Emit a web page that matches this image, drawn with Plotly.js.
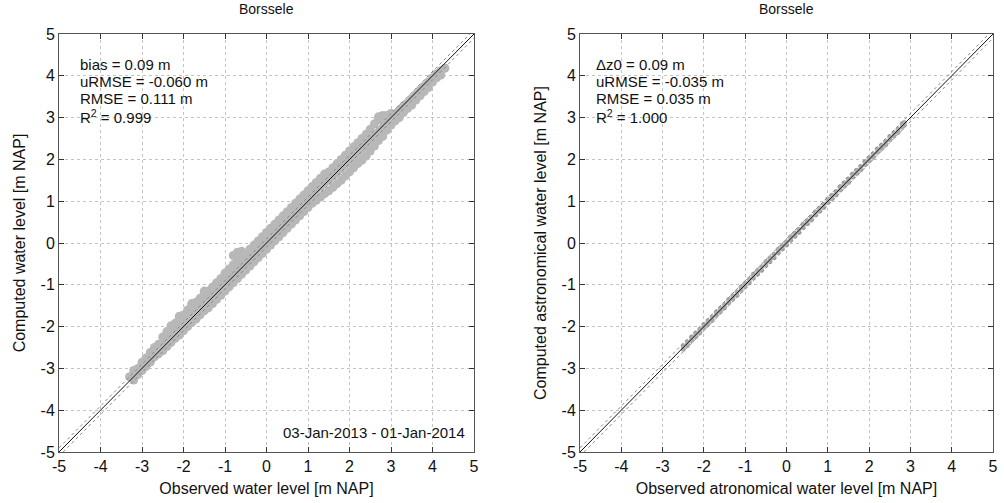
<!DOCTYPE html>
<html>
<head>
<meta charset="utf-8">
<script src="https://cdn.plot.ly/plotly-3.0.1.min.js"></script>
<style>html,body{margin:0;padding:0;background:#fff;}#chart{width:1004px;height:503px;}</style>
</head>
<body>
<div id="chart"></div>
<script>
// ---------- data ----------
const stationName = "Borssele";
const periodLabel = "03-Jan-2013 - 01-Jan-2014";
const tickValues = [-5, -4, -3, -2, -1, 0, 1, 2, 3, 4, 5];
const tickLabels = ["-5", "-4", "-3", "-2", "-1", "0", "1", "2", "3", "4", "5"];
const refLine = [-5, 5];          // 1:1 line end points (axis range)
const refOffset = 0.1;            // dotted band around 1:1 line [m]

const statsLeft = ["bias = 0.09 m", "uRMSE = -0.060 m", "RMSE = 0.111 m", "R<sup>2</sup> = 0.999"];
const statsRight = ["\u0394z0 = 0.09 m", "uRMSE = -0.035 m", "RMSE = 0.035 m", "R<sup>2</sup> = 1.000"];

// observed vs computed water level (total)
const obsL = [
 -3.3,-3.2,-3.2,-3.1,-3.1,-3.0,-3.0,-2.9,-2.9,-2.8,-2.8,-2.7,-2.7,-2.6,-2.6,
 -2.5,-2.5,-2.5,-2.4,-2.4,-2.4,-2.3,-2.3,-2.3,-2.3,-2.2,-2.2,-2.2,-2.1,-2.1,-2.1,-2.1,
 -2.0,-2.0,-2.0,-1.9,-1.9,-1.9,-1.8,-1.8,-1.8,-1.8,-1.7,-1.7,-1.7,-1.6,-1.6,-1.6,-1.5,-1.5,-1.5,-1.5,
 -1.4,-1.4,-1.4,-1.3,-1.3,-1.3,-1.2,-1.2,-1.2,-1.1,-1.1,-1.1,-1.0,-1.0,-1.0,-0.9,-0.9,-0.9,
 -0.8,-0.8,-0.8,-0.8,-0.7,-0.7,-0.7,-0.7,-0.6,-0.6,-0.6,-0.6,-0.5,-0.5,-0.5,-0.4,-0.4,-0.4,-0.3,-0.3,-0.3,
 -0.2,-0.2,-0.2,-0.1,-0.1,-0.1,0.0,0.0,0.0,0.1,0.1,0.1,0.2,0.2,0.2,0.3,0.3,0.3,0.4,0.4,0.4,
 0.5,0.5,0.5,0.6,0.6,0.6,0.7,0.7,0.7,0.8,0.8,0.8,0.9,0.9,0.9,1.0,1.0,1.0,1.1,1.1,1.1,
 1.2,1.2,1.2,1.3,1.3,1.3,1.4,1.4,1.4,
 1.5,1.5,1.5,1.6,1.6,1.6,1.7,1.7,1.7,1.8,1.8,1.8,1.9,1.9,1.9,2.0,2.0,2.0,2.1,2.1,2.1,
 2.2,2.2,2.2,2.3,2.3,2.3,2.4,2.4,2.4,
 2.5,2.5,2.5,2.6,2.6,2.6,2.7,2.7,2.7,2.7,2.8,2.8,2.8,2.8,2.9,2.9,2.9,3.0,3.0,3.0,
 3.1,3.1,3.2,3.2,3.3,3.3,3.4,3.4,3.5,3.5,3.6,3.6,3.7,3.7,3.8,3.8,3.9,3.9,4.0,4.0,4.1,4.1,4.2,4.2,4.3
];
const compL = [
 -3.2,-3.05,-3.28,-3.0,-3.15,-2.85,-3.05,-2.75,-2.95,-2.62,-2.85,-2.5,-2.72,-2.42,-2.65,
 -2.58,-2.4,-2.25,-2.48,-2.3,-2.12,-2.38,-2.2,-2.02,-1.98,-2.28,-2.1,-1.92,-2.2,-2.0,-1.8,-1.75,
 -2.1,-1.9,-1.72,-2.0,-1.8,-1.6,-1.9,-1.7,-1.5,-1.45,-1.82,-1.6,-1.42,-1.72,-1.5,-1.32,-1.62,-1.4,-1.2,-1.15,
 -1.55,-1.35,-1.15,-1.45,-1.22,-1.05,-1.35,-1.12,-0.95,-1.25,-1.02,-0.85,-1.15,-0.92,-0.72,-1.05,-0.82,-0.62,
 -0.95,-0.72,-0.52,-0.3,-0.85,-0.62,-0.42,-0.22,-0.75,-0.52,-0.32,-0.2,-0.65,-0.42,-0.25,-0.55,-0.32,-0.15,-0.45,-0.22,-0.05,
 -0.35,-0.12,0.05,-0.25,-0.02,0.15,-0.15,0.08,0.25,-0.05,0.18,0.35,0.05,0.28,0.45,0.15,0.38,0.55,0.25,0.48,0.65,
 0.35,0.58,0.75,0.45,0.68,0.85,0.55,0.78,0.95,0.65,0.88,1.05,0.75,0.98,1.15,0.85,1.08,1.25,0.95,1.18,1.35,
 1.02,1.28,1.45,1.1,1.35,1.55,1.18,1.45,1.65,
 1.25,1.5,1.7,1.33,1.6,1.8,1.42,1.68,1.9,1.5,1.78,2.0,1.6,1.88,2.1,1.7,1.95,2.2,1.8,2.05,2.3,
 1.9,2.15,2.4,1.98,2.25,2.5,2.08,2.35,2.6,
 2.2,2.45,2.72,2.32,2.55,2.85,2.45,2.65,2.95,3.02,2.55,2.75,3.0,3.05,2.7,2.88,3.05,2.82,2.98,3.1,
 2.92,3.08,3.0,3.18,3.12,3.28,3.22,3.35,3.3,3.45,3.42,3.55,3.52,3.66,3.62,3.75,3.72,3.85,3.85,3.95,3.95,4.05,4.02,4.12,4.18
];

// observed vs computed astronomical water level
const obsR = [
 -2.5,-2.5,-2.4,-2.4,-2.3,-2.3,-2.2,-2.2,-2.1,-2.1,-2.0,-2.0,-1.9,-1.9,-1.8,-1.8,-1.7,-1.7,-1.6,-1.6,
 -1.5,-1.5,-1.4,-1.4,-1.3,-1.3,-1.2,-1.2,-1.1,-1.1,-1.0,-1.0,-0.9,-0.9,-0.8,-0.8,-0.7,-0.7,-0.6,-0.6,
 -0.5,-0.5,-0.4,-0.4,-0.3,-0.3,-0.2,-0.2,-0.1,-0.1,0.0,0.0,0.1,0.1,0.2,0.2,0.3,0.3,0.4,0.4,
 0.5,0.5,0.6,0.6,0.7,0.7,0.8,0.8,0.9,0.9,1.0,1.0,1.1,1.1,1.2,1.2,1.3,1.3,1.4,1.4,
 1.5,1.5,1.6,1.6,1.7,1.7,1.8,1.8,1.9,1.9,2.0,2.0,2.1,2.1,2.2,2.2,2.3,2.3,2.4,2.4,
 2.5,2.5,2.6,2.6,2.7,2.7,2.8,2.8,2.85,2.85
];
const compR = [
 -2.54,-2.46,-2.45,-2.37,-2.33,-2.25,-2.24,-2.16,-2.15,-2.07,-2.03,-1.95,-1.94,-1.86,-1.85,-1.77,-1.73,-1.65,-1.64,-1.56,
 -1.55,-1.47,-1.43,-1.35,-1.34,-1.26,-1.25,-1.17,-1.13,-1.05,-1.04,-0.96,-0.95,-0.87,-0.83,-0.75,-0.74,-0.66,-0.65,-0.57,
 -0.53,-0.45,-0.44,-0.36,-0.35,-0.27,-0.23,-0.15,-0.14,-0.06,-0.05,0.03,0.07,0.15,0.16,0.24,0.25,0.33,0.37,0.45,
 0.46,0.54,0.55,0.63,0.67,0.75,0.76,0.84,0.85,0.93,0.97,1.05,1.06,1.14,1.15,1.23,1.27,1.35,1.36,1.44,
 1.45,1.53,1.57,1.65,1.66,1.74,1.75,1.83,1.87,1.95,1.96,2.04,2.05,2.13,2.17,2.25,2.26,2.34,2.35,2.43,
 2.47,2.55,2.56,2.64,2.65,2.73,2.77,2.85,2.82,2.88
];

// ---------- figure ----------
const FONT = "Liberation Sans, Arial, Helvetica, sans-serif";

function refTraces(xa, ya) {
  return [
    {x: refLine, y: refLine.map(v => v + refOffset), mode: "lines", xaxis: xa, yaxis: ya,
     line: {color: "#8a8a8a", width: 1, dash: "dot"}, hoverinfo: "skip", showlegend: false},
    {x: refLine, y: refLine.map(v => v - refOffset), mode: "lines", xaxis: xa, yaxis: ya,
     line: {color: "#8a8a8a", width: 1, dash: "dot"}, hoverinfo: "skip", showlegend: false},
    {x: refLine, y: refLine, mode: "lines", xaxis: xa, yaxis: ya,
     line: {color: "#111", width: 1}, hoverinfo: "skip", showlegend: false}
  ];
}

const traces = [
  {x: obsL, y: compL, mode: "markers", type: "scatter", xaxis: "x", yaxis: "y",
   marker: {color: "#b8b8b8", size: 9, line: {width: 0}}, showlegend: false},
  ...refTraces("x", "y"),
  {x: obsR, y: compR, mode: "markers", type: "scatter", xaxis: "x2", yaxis: "y2",
   marker: {color: "#ababab", size: 5, line: {width: 0}}, showlegend: false},
  ...refTraces("x2", "y2")
];

function axis(domain, anchor, titleText, standoff) {
  return {
    domain: domain, anchor: anchor, range: [-5, 5], tickvals: tickValues, ticktext: tickLabels,
    ticks: "inside", ticklen: 5, tickcolor: "#333", tickwidth: 1,
    showline: true, linecolor: "#555", linewidth: 1, mirror: "ticks",
    showgrid: true, gridcolor: "#c4c4c4", griddash: "dot", gridwidth: 1,
    zeroline: false, automargin: false, fixedrange: true,
    tickfont: {family: FONT, size: 16, color: "#111"},
    title: {text: titleText, font: {family: FONT, size: 16, color: "#111"}, standoff: standoff}
  };
}

const xL = [59/1004, 474/1004], xR = [580/1004, 993/1004];
const yD = [1 - 452/503, 1 - 34/503];

function statAnnotations(lines, xPix) {
  const yCenters = [65, 82, 99, 116.5];
  return lines.map((t, i) => ({
    text: t, xref: "paper", yref: "paper", x: xPix/1004, y: 1 - yCenters[i]/503,
    xanchor: "left", yanchor: "middle", align: "left", showarrow: false,
    font: {family: FONT, size: 15, color: "#111"}
  }));
}

const layout = {
  width: 1004, height: 503,
  margin: {l: 0, r: 0, t: 0, b: 0},
  paper_bgcolor: "#fff", plot_bgcolor: "#fff",
  font: {family: FONT, color: "#111"},
  showlegend: false,
  xaxis: axis(xL, "y", "Observed water level [m NAP]", 8),
  yaxis: axis(yD, "x", "Computed water level [m NAP]", 10),
  xaxis2: axis(xR, "y2", "Observed atronomical water level [m NAP]", 8),
  yaxis2: axis(yD, "x2", "Computed astronomical water level [m NAP]", 10),
  annotations: [
    {text: stationName, xref: "paper", yref: "paper", x: (xL[0]+xL[1])/2, y: 1 - 9/503,
     xanchor: "center", yanchor: "middle", showarrow: false, font: {family: FONT, size: 14, color: "#111"}},
    {text: stationName, xref: "paper", yref: "paper", x: (xR[0]+xR[1])/2, y: 1 - 9/503,
     xanchor: "center", yanchor: "middle", showarrow: false, font: {family: FONT, size: 14, color: "#111"}},
    ...statAnnotations(statsLeft, 78),
    ...statAnnotations(statsRight, 594),
    {text: periodLabel, xref: "paper", yref: "paper", x: 467/1004, y: 1 - 432/503,
     xanchor: "right", yanchor: "middle", showarrow: false, font: {family: FONT, size: 15, color: "#111"}}
  ]
};

Plotly.newPlot("chart", traces, layout, {staticPlot: true, displayModeBar: false});
</script>
</body>
</html>
